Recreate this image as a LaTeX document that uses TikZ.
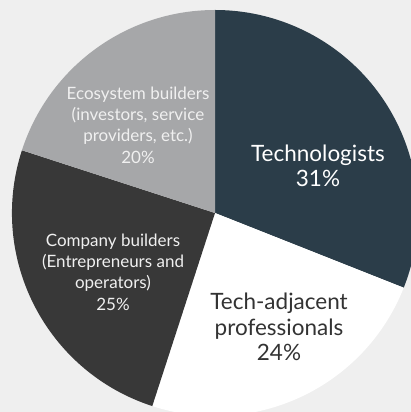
\documentclass[tikz,border=0pt]{standalone}
\usepackage{fontspec}
\setmainfont{Lato}
\usepackage{tikz}
\definecolor{bgback}{HTML}{EFEFEF}
\definecolor{techblue}{HTML}{2B3D49}
\definecolor{compgray}{HTML}{383838}
\definecolor{ecogray}{HTML}{A6A7A9}
\tikzset{%
  slice/.style = {draw=none},
  small/.style = {align=center,text=white!94!black,
        font=\fontsize{17}{21.3}\selectfont},
  big/.style = {align=center,
        font=\fontsize{22.5}{25.5}\selectfont}
}
\begin{document}
\begin{tikzpicture}[x=1pt,y=1pt]
\useasboundingbox (0,0) rectangle (411,412);
\fill[bgback] (0,0) rectangle (411,412);
\clip (0,0) rectangle (411,412);
\coordinate (o) at (215,199);
% slices, clockwise from the top
\fill[slice,techblue] (o) -- ++(90:203) arc[start angle=90,end angle=-21.6,radius=203] -- cycle;
\fill[slice,white] (o) -- ++(-21.6:203) arc[start angle=-21.6,end angle=-108,radius=203] -- cycle;
\fill[slice,compgray] (o) -- ++(-108:203) arc[start angle=-108,end angle=-198,radius=203] -- cycle;
\fill[slice,ecogray] (o) -- ++(162:203) arc[start angle=162,end angle=90,radius=203] -- cycle;
% labels
\node[big,text=white] (tech) at (318,246) {Technologists\\31\%};
\node[big,text=black!80] (adj) at (279,85) {Tech-adjacent\\professionals\\24\%};
\node[small] (comp) at (113,140) {Company builders\\(Entrepreneurs and\\operators)\\25\%};
\node[small] (eco) at (138,287) {Ecosystem builders\\(investors, service\\providers, etc.)\\20\%};
\end{tikzpicture}
\end{document}
